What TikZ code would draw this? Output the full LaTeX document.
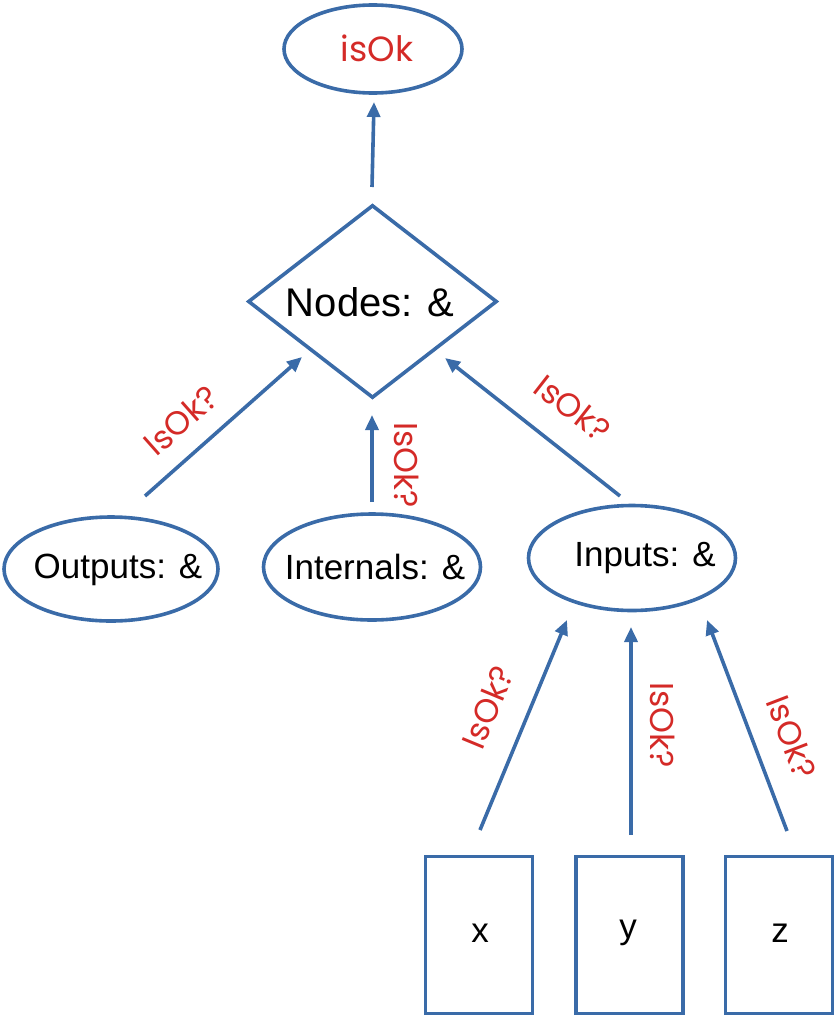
\documentclass[tikz,border=0pt]{standalone}
\usepackage{fontspec}
\setmainfont{Liberation Sans}
\newfontfamily\labelfont{Poppins}
\usetikzlibrary{shapes.geometric,arrows.meta}
\definecolor{edgeblue}{HTML}{3A6BA8}
\definecolor{labelred}{HTML}{D42A27}
\tikzset{
  shapeline/.style={draw=edgeblue, line width=3.6pt},
  oval/.style={shapeline, ellipse, inner sep=0pt, outer sep=0pt},
  leaf/.style={shapeline, rectangle, inner sep=0pt, minimum width=107pt, minimum height=157pt},
  link/.style={edgeblue, line width=3.6pt, -{Triangle[length=15pt,width=13pt]}},
  tag/.style={text=labelred, font=\labelfont\fontsize{33}{40}\selectfont, inner sep=0pt},
  bigtext/.style={font=\fontsize{35}{42}\selectfont},
}
\begin{document}
\begin{tikzpicture}[x=1pt,y=-1pt]
\useasboundingbox (0,0) rectangle (835,1017);

% result node
\node[oval, minimum width=178pt, minimum height=88pt] (result) at (373,49) {};
\node[text=labelred, font=\labelfont\fontsize{35}{42}\selectfont] (resulttxt) at (377,48) {isOk};

% conjunction over all node groups
\node[shapeline, diamond, aspect=1.29, inner sep=0pt, minimum width=249pt, minimum height=193pt] (nodes) at (372.5,301.5) {};
\node[font=\fontsize{40}{48}\selectfont] (nodestxt) at (370,302) {Nodes: \&};

% node groups
\node[oval, minimum width=214pt, minimum height=104pt] (outputs) at (111,569) {};
\node[bigtext] (outputstxt) at (118,570) {Outputs: \&};
\node[oval, minimum width=217pt, minimum height=106pt] (internals) at (372,567) {};
\node[bigtext] (internalstxt) at (375,567) {Internals: \&};
\node[oval, minimum width=207pt, minimum height=105pt] (inputs) at (632,558) {};
\node[bigtext] (inputstxt) at (645,558) {Inputs: \&};

% input variables
\node[leaf] (x) at (479,935) {};
\node[bigtext] (xtxt) at (480,933) {x};
\node[leaf] (y) at (629.5,935) {};
\node[bigtext] (ytxt) at (628,933) {y};
\node[leaf] (z) at (779,935) {};
\node[bigtext] (ztxt) at (780,933) {z};

% connector end points
\coordinate (nodes-out) at (372,187);
\coordinate (result-in) at (374,102);
\coordinate (outputs-out) at (145,496);
\coordinate (nodes-in-l) at (302,357);
\coordinate (internals-out) at (372,502);
\coordinate (nodes-in-m) at (372,415);
\coordinate (inputs-out) at (620,496);
\coordinate (nodes-in-r) at (445,358);
\coordinate (x-out) at (480,830);
\coordinate (inputs-in-l) at (567,620);
\coordinate (y-out) at (631,835);
\coordinate (inputs-in-m) at (631,627);
\coordinate (z-out) at (787,831);
\coordinate (inputs-in-r) at (707,620);

% connectors
\draw[link] (nodes-out) -- (result-in);
\draw[link] (outputs-out) -- (nodes-in-l);
\draw[link] (internals-out) -- (nodes-in-m);
\draw[link] (inputs-out) -- (nodes-in-r);
\draw[link] (x-out) -- (inputs-in-l);
\draw[link] (y-out) -- (inputs-in-m);
\draw[link] (z-out) -- (inputs-in-r);

% connector labels
\node[tag, rotate=41.5] (lbl-o) at (181,420) {IsOk?};
\node[tag, rotate=-90] (lbl-i) at (407,465) {IsOk?};
\node[tag, rotate=-38] (lbl-n) at (573,408) {IsOk?};
\node[tag, rotate=67.5] (lbl-x) at (488,707) {IsOk?};
\node[tag, rotate=-90] (lbl-y) at (663,725) {IsOk?};
\node[tag, rotate=-69] (lbl-z) at (792,737) {IsOk?};
\end{tikzpicture}
\end{document}
